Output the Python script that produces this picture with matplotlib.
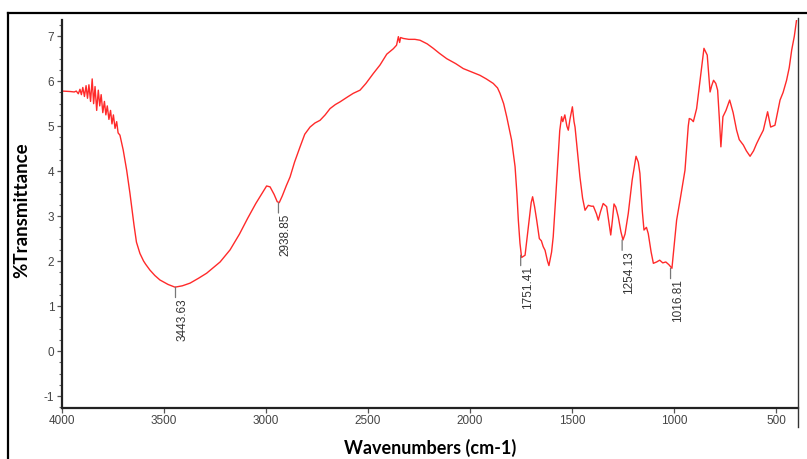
import numpy as np
import matplotlib
matplotlib.use("Agg")
import matplotlib.pyplot as plt
from matplotlib.lines import Line2D

plt.rcParams["axes.unicode_minus"] = False

# wavenumber (cm-1) and %T
wavenumber = [4000, 3960, 3940, 3930, 3920, 3912, 3905, 3898, 3890, 3882, 3875, 3868, 3860, 3852,
              3845, 3838, 3830, 3822, 3815, 3808, 3800, 3792, 3785, 3778, 3770, 3762, 3755, 3748,
              3740, 3732, 3725, 3716, 3700, 3683, 3667, 3655, 3647, 3635, 3618, 3600, 3590, 3569,
              3545, 3520, 3480, 3446,
              3410, 3372, 3330, 3291, 3225, 3176, 3130, 3090, 3050, 3020, 2997, 2980, 2960, 2945,
              2935, 2920, 2900, 2882, 2860, 2833, 2810, 2784, 2760, 2735, 2710, 2686, 2660, 2637,
              2600, 2572, 2539, 2510, 2474, 2441, 2408, 2376, 2360, 2351, 2345, 2340, 2327, 2300,
              2270, 2245, 2210, 2180, 2150, 2114, 2070, 2033, 1990, 1951, 1920, 1886, 1865, 1853,
              1835, 1820, 1796, 1779, 1770, 1763, 1755, 1747, 1740, 1730, 1714, 1700, 1693, 1683,
              1673, 1660, 1650, 1641, 1632, 1620, 1613, 1600, 1592, 1580, 1567, 1560, 1551, 1545,
              1535, 1525, 1518, 1510, 1498, 1490, 1485, 1470, 1461, 1448, 1436, 1420, 1405, 1395,
              1380, 1371, 1360, 1347, 1330, 1320, 1310, 1302, 1294, 1285, 1273, 1260, 1250, 1240,
              1224, 1205, 1186, 1175, 1167, 1155, 1147, 1135, 1126, 1112, 1101, 1085, 1070, 1055,
              1040, 1025, 1010, 1000, 987, 970, 954, 946, 930, 925, 915, 905, 889, 870,
              853, 837, 823, 815, 806, 795, 786, 778, 770, 760, 745, 727, 710, 693,
              680, 660, 645, 627, 610, 595, 580, 562, 541, 526, 515, 505, 480, 465,
              448, 435, 423, 410, 399]
transmittance = [5.78, 5.77, 5.76, 5.78, 5.72, 5.82, 5.70, 5.86, 5.66, 5.90, 5.62, 5.92, 5.55, 6.05,
                 5.50, 5.88, 5.35, 5.80, 5.45, 5.70, 5.30, 5.55, 5.25, 5.45, 5.15, 5.35, 5.05, 5.25,
                 4.95, 5.10, 4.85, 4.80, 4.47, 4.02, 3.51, 3.08, 2.80, 2.42, 2.17, 2.00, 1.93, 1.80,
                 1.68, 1.58, 1.48, 1.42,
                 1.45, 1.51, 1.62, 1.73, 1.98, 2.25, 2.60, 2.95, 3.28, 3.50, 3.67, 3.65, 3.48, 3.32,
                 3.30, 3.45, 3.68, 3.87, 4.20, 4.54, 4.82, 4.98, 5.07, 5.13, 5.25, 5.39, 5.48, 5.54,
                 5.65, 5.73, 5.80, 5.95, 6.17, 6.36, 6.60, 6.72, 6.80, 6.99, 6.86, 6.97, 6.95, 6.93,
                 6.93, 6.91, 6.83, 6.73, 6.62, 6.50, 6.39, 6.28, 6.20, 6.13, 6.05, 5.95, 5.85, 5.73,
                 5.50, 5.21, 4.69, 4.10, 3.50, 2.91, 2.40, 2.08, 2.10, 2.13, 2.76, 3.30, 3.43, 3.20,
                 2.91, 2.50, 2.45, 2.32, 2.24, 2.00, 1.90, 2.20, 2.54, 3.40, 4.39, 4.90, 5.21, 5.10,
                 5.25, 5.00, 4.91, 5.15, 5.43, 5.10, 4.98, 4.30, 3.87, 3.40, 3.13, 3.24, 3.22, 3.22,
                 3.05, 2.91, 3.10, 3.28, 3.21, 2.90, 2.58, 2.90, 3.27, 3.20, 2.98, 2.65, 2.47, 2.60,
                 3.06, 3.80, 4.33, 4.20, 3.95, 3.10, 2.69, 2.75, 2.61, 2.20, 1.95, 1.98, 2.02, 1.96,
                 1.98, 1.92, 1.84, 2.30, 2.91, 3.36, 3.80, 4.02, 5.00, 5.17, 5.15, 5.10, 5.39, 6.10,
                 6.73, 6.58, 5.76, 5.90, 6.02, 5.95, 5.80, 5.20, 4.54, 5.21, 5.35, 5.58, 5.30, 4.91,
                 4.70, 4.58, 4.45, 4.33, 4.45, 4.61, 4.75, 4.91, 5.32, 4.98, 5.00, 5.02, 5.58, 5.75,
                 6.02, 6.30, 6.69, 7.00, 7.36]

# labelled peaks
peak_labels = ["3443.63", "2938.85", "1751.41", "1254.13", "1016.81"]
peak_t = [1.42, 3.30, 2.13, 2.47, 1.84]

xticks = [4000, 3500, 3000, 2500, 2000, 1500, 1000, 500]
yticks = [-1, 0, 1, 2, 3, 4, 5, 6, 7]


def draw():
    W, H = 807, 459
    fig = plt.figure(figsize=(W / 100, H / 100), dpi=100)
    ax = fig.add_axes([62 / W, 1 - 407.7 / H, (798 - 62) / W, (407.7 - 20) / H])

    ax.plot(wavenumber, transmittance, color="#ff2a2a", lw=1.0)

    for lab, t in zip(peak_labels, peak_t):
        wn = float(lab)
        ax.annotate("", xy=(wn, t), xytext=(0, -7.5), textcoords="offset points",
                    arrowprops=dict(arrowstyle="-", color="#777777", lw=0.9,
                                    shrinkA=0, shrinkB=0))
        ax.annotate(lab, xy=(wn, t), xytext=(0.8, -8), textcoords="offset points",
                    rotation=90, ha="left", va="top", fontsize=8.5, color="#333333",
                    family="Liberation Sans")

    ax.set_xlim(4000, 392)
    ax.set_ylim(-1.26, 7.36)
    ax.set_xticks(xticks)
    ax.set_yticks(yticks)
    ax.set_yticks(np.arange(-1.25, 7.3, 0.25), minor=True)
    ax.tick_params(axis="both", which="major", direction="out", length=3.5, width=0.9,
                   color="#555555", labelcolor="#444444", labelsize=8.5, pad=2)
    ax.tick_params(axis="y", which="minor", direction="out", length=2, width=0.8, color="#666666")
    for t in ax.get_xticklabels() + ax.get_yticklabels():
        t.set_family("Liberation Sans")

    for s in ["top", "right"]:
        ax.spines[s].set_visible(False)
    for s in ["left", "bottom"]:
        ax.spines[s].set_color("#222222")
        ax.spines[s].set_linewidth(1.6)

    fig.text(430 / W, 1 - 448 / H, "Wavenumbers (cm-1)", ha="center", va="center",
             fontsize=13, fontweight="bold", family="Lato")
    fig.text(22 / W, 1 - 210 / H, "%Transmittance", ha="center", va="center",
             rotation=90, fontsize=13.5, fontweight="bold", family="Lato")

    # right edge line and the outer frame of the picture
    fig.add_artist(Line2D([798 / W, 798 / W], [1 - 427 / H, 1 - 18 / H], color="#333333", lw=1.0))
    fig.add_artist(Line2D([8 / W, 1], [1 - 13 / H, 1 - 13 / H], color="black", lw=1.6))
    fig.add_artist(Line2D([8 / W, 8 / W], [0, 1 - 13 / H], color="black", lw=1.6))

    fig.savefig("out.png", dpi=100)


if __name__ == "__main__":
    draw()
